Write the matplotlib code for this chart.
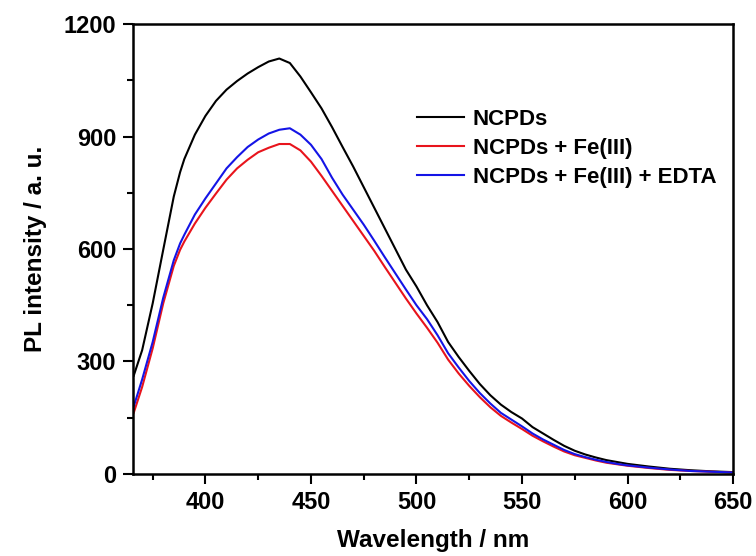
import numpy as np
import matplotlib.pyplot as plt
from matplotlib.ticker import MultipleLocator

plt.rcParams['font.family'] = ['Liberation Sans', 'DejaVu Sans']
plt.rcParams['font.weight'] = 'bold'

wavelength = [366, 370, 375, 380, 385, 388, 390, 395, 400, 405, 410, 415, 420, 425, 430,
              435, 440, 445, 450, 455, 460, 465, 470, 475, 480, 485, 490, 495, 500,
              505, 510, 515, 520, 525, 530, 535, 540, 545, 550, 555, 560, 565, 570,
              575, 580, 585, 590, 595, 600, 610, 620, 630, 640, 650]

ncpds = [262, 330, 455, 598, 740, 805, 840, 905, 955, 995, 1025, 1048, 1068, 1085, 1100,
         1108, 1096, 1060, 1018, 975, 925, 872, 820, 765, 710, 655, 600, 545, 500,
         450, 405, 352, 312, 275, 240, 210, 185, 165, 148, 125, 108, 91, 75,
         62, 52, 44, 37, 32, 27, 20, 14, 10, 7, 5]

ncpds_fe = [163, 232, 335, 455, 555, 598, 620, 668, 710, 748, 785, 815, 838, 858, 870,
            880, 880, 863, 833, 795, 755, 715, 675, 635, 595, 552, 510, 468, 428,
            390, 350, 305, 268, 235, 205, 178, 155, 137, 120, 102, 87, 73, 60,
            50, 43, 36, 30, 26, 22, 16, 11, 8, 6, 4]

ncpds_fe_edta = [180, 252, 352, 470, 570, 615, 638, 692, 735, 775, 815, 845, 872, 892, 908,
                 918, 922, 905, 878, 840, 790, 745, 705, 665, 622, 578, 535, 492, 450,
                 413, 370, 322, 284, 248, 216, 188, 163, 145, 127, 108, 92, 78, 64,
                 53, 45, 38, 32, 27, 23, 17, 12, 8, 6, 4]

fig = plt.figure(figsize=(7.56, 5.56), dpi=100)
ax = fig.add_axes([0.176, 0.1475, 0.7936, 0.8093])

ax.plot(wavelength, ncpds, color='black', lw=1.5, label='NCPDs')
ax.plot(wavelength, ncpds_fe, color='#e8141c', lw=1.5, label='NCPDs + Fe(III)')
ax.plot(wavelength, ncpds_fe_edta, color='#1414e6', lw=1.5, label='NCPDs + Fe(III) + EDTA')

ax.set_xlim(365.7, 650)
ax.set_ylim(0, 1200)
ax.xaxis.set_major_locator(MultipleLocator(50))
ax.xaxis.set_minor_locator(MultipleLocator(25))
ax.yaxis.set_major_locator(MultipleLocator(300))
ax.yaxis.set_minor_locator(MultipleLocator(150))
ax.tick_params(which='both', direction='out', width=1.5, top=False, right=False)
ax.tick_params(which='major', length=7, labelsize=17, pad=5)
ax.tick_params(which='minor', length=4)
for s in ax.spines.values():
    s.set_linewidth(1.8)

ax.set_xlabel('Wavelength / nm', fontsize=17.5, fontweight='bold', labelpad=11)
ax.set_ylabel('PL intensity / a. u.', fontsize=17.5, fontweight='bold', labelpad=12)

ax.legend(loc='upper left', bbox_to_anchor=(0.44, 0.855), frameon=False,
          fontsize=16, handlelength=2.1, handletextpad=0.4, labelspacing=0.36)

plt.savefig('out.png', dpi=100)
